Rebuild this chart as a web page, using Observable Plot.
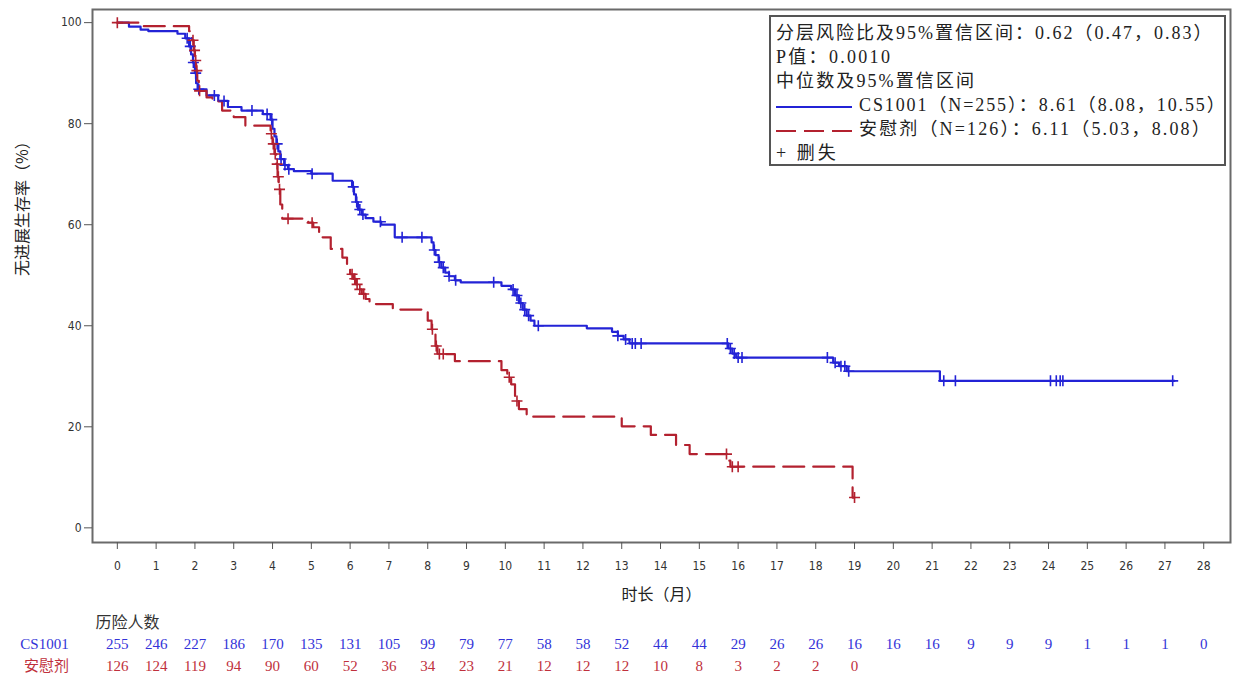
<!DOCTYPE html>
<html><head><meta charset="utf-8">
<script src="https://cdn.jsdelivr.net/npm/d3@7"></script>
<script src="https://cdn.jsdelivr.net/npm/@observablehq/plot@0.6"></script>
<style>
body{margin:0;background:#fff;}
#wrap{position:relative;width:1235px;height:684px;overflow:hidden;}
#legend{position:absolute;left:769px;top:15px;width:457px;height:151px;border:2px solid #555;box-sizing:border-box;
  font-family:"Liberation Serif","Noto Sans CJK SC",serif;font-size:18px;color:#222;background:#fff;padding:4px 0 0 5px;}
#legend .row{height:24px;line-height:24px;white-space:nowrap;}
#legend svg{vertical-align:middle;margin-right:7px;}
#legend .r1{letter-spacing:2.0px;}
#legend .r2{letter-spacing:2.3px;}
#legend .r3{letter-spacing:2.1px;}
#legend .r4{letter-spacing:1.9px;}
#legend .r5{letter-spacing:2.15px;}
#legend .r6{letter-spacing:3px;}
</style>
</head><body>
<div id="wrap">
<div id="chart"></div>
<div id="legend">
  <div class="row r1">分层风险比及95%置信区间：0.62（0.47，0.83）</div>
  <div class="row r2">P值：0.0010</div>
  <div class="row r3">中位数及95%置信区间</div>
  <div class="row r4"><svg width="76" height="10"><line x1="0" y1="5" x2="76" y2="5" stroke="#2323d6" stroke-width="2.2"/></svg>CS1001（N=255）：8.61（8.08，10.55）</div>
  <div class="row r5"><svg width="76" height="10"><line x1="0" y1="5" x2="76" y2="5" stroke="#b3212f" stroke-width="2.2" stroke-dasharray="20,8"/></svg>安慰剂（N=126）：6.11（5.03，8.08）</div>
  <div class="row r6">+ 删失</div>
</div>
</div>
<script>
// ---- Data ----
const monthTicks = [0,1,2,3,4,5,6,7,8,9,10,11,12,13,14,15,16,17,18,19,20,21,22,23,24,25,26,27,28];
const survTicks = [0,20,40,60,80,100];

// CS1001 Kaplan-Meier step points (time in months, survival %)
const csTime = [0,0.3,0.6,0.8,1.55,1.75,1.85,1.9,1.95,2.0,2.03,2.07,2.3,2.6,2.85,3.2,3.75,3.95,4.0,4.05,4.1,4.15,4.2,4.3,4.4,4.55,5.0,5.55,6.05,6.1,6.15,6.2,6.3,6.4,6.6,6.8,7.15,8.1,8.15,8.2,8.28,8.35,8.45,8.55,8.7,8.85,9.9,10.15,10.25,10.35,10.45,10.55,10.65,10.75,12.1,12.75,12.9,13.05,13.2,15.75,15.85,15.95,18.45,18.6,18.8,21.2,27.25];
const csSurv = [100,99.2,98.6,98.3,97.8,96.9,95.3,93.7,92.1,90.0,88.0,86.8,85.6,84.5,83.3,82.6,81.9,80.8,79.0,77.5,76.0,74.5,73.0,71.8,71.0,70.6,70.1,68.7,67.5,66.0,64.5,63.0,62.0,61.3,60.6,60.0,57.5,56.5,55.0,54.0,52.6,51.5,50.5,49.8,49.0,48.6,47.9,47.2,46.0,44.5,43.2,42.0,41.0,40.0,39.5,38.8,38.0,37.3,36.5,35.5,34.5,33.7,32.7,32.0,31.0,29.1,29.1];
const csCensor = [1.8,1.88,1.96,2.02,2.1,2.5,2.75,3.47,3.86,3.98,4.12,4.22,4.32,4.42,5.02,6.08,6.17,6.25,6.33,6.78,7.34,7.85,8.17,8.3,8.4,8.55,8.72,9.7,10.2,10.3,10.4,10.5,10.6,10.85,12.9,13.1,13.27,13.35,13.5,15.72,15.8,15.9,16.0,16.1,18.3,18.5,18.65,18.75,18.85,21.3,21.6,24.05,24.2,24.3,24.37,27.2];

// Placebo step points
const plTime = [0,0.6,1.85,1.92,1.97,2.0,2.03,2.06,2.1,2.3,2.45,2.7,3.0,3.3,3.95,4.0,4.05,4.1,4.13,4.16,4.2,4.25,4.92,5.05,5.2,5.5,5.8,5.92,6.0,6.08,6.15,6.2,6.3,6.4,6.5,7.1,8.0,8.1,8.2,8.25,8.7,9.9,10.05,10.15,10.25,10.35,10.55,13.0,13.75,14.4,14.75,15.72,15.8,18.95,19.0];
const plSurv = [100,99.3,98.3,96.5,94.5,92.5,90.5,88.5,86.5,85.2,84.4,82.6,81.3,79.6,78.0,76.0,74.0,72.0,69.5,67.0,64.0,61.2,60.4,59.5,57.5,55.2,53.5,51.9,50.2,49.3,48.2,47.2,46.3,45.3,44.3,43.2,41.0,39.3,36.0,34.4,33.0,31.2,29.8,28.4,25.1,23.5,22.0,20.1,18.4,16.4,14.6,13.3,12.1,6.0,6.0];
const plCensor = [0,1.95,1.99,2.02,2.05,2.12,3.97,4.02,4.07,4.12,4.15,4.18,4.4,5.02,6.05,6.12,6.18,6.25,6.35,8.12,8.22,8.3,8.4,10.1,10.3,15.7,15.85,16.0,19.0];

// Numbers at risk
const riskMonthsCS = [0,1,2,3,4,5,6,7,8,9,10,11,12,13,14,15,16,17,18,19,20,21,22,23,24,25,26,27,28];
const riskCS = [255,246,227,186,170,135,131,105,99,79,77,58,58,52,44,44,29,26,26,16,16,16,9,9,9,1,1,1,0];
const riskMonthsPL = [0,1,2,3,4,5,6,7,8,9,10,11,12,13,14,15,16,17,18,19];
const riskPL = [126,124,119,94,90,60,52,36,34,23,21,12,12,12,10,8,3,2,2,0];

// ---- Build tables ----
const blue = "#2323d6", red = "#b3212f";
const blueTxt = "#3333d8", redTxt = "#c0303c";
const csCurve = csTime.map((t,i)=>({t, s: csSurv[i]}));
const plCurve = plTime.map((t,i)=>({t, s: plSurv[i]}));
const stepAt = (times, survs, t) => { let v = survs[0]; for (let i=0;i<times.length;i++){ if (times[i] <= t) v = survs[i]; } return v; };
const csCens = csCensor.map(t=>({t, s: stepAt(csTime, csSurv, t)}));
const plCens = plCensor.map(t=>({t, s: stepAt(plTime, plSurv, t)}));
const csRiskRows = riskMonthsCS.map((t,i)=>({t, n: String(riskCS[i])}));
const plRiskRows = riskMonthsPL.map((t,i)=>({t, n: String(riskPL[i])}));

const plusSym = { draw(ctx, size){ const r = Math.sqrt(size/Math.PI); ctx.moveTo(-r,0); ctx.lineTo(r,0); ctx.moveTo(0,-r); ctx.lineTo(0,r); } };

const serif = "'Liberation Serif','Noto Sans CJK SC',serif";
const cjk = "'Noto Sans CJK SC',sans-serif";

const chart = Plot.plot({
  width: 1235, height: 684,
  marginLeft: 92, marginRight: 5, marginTop: 9, marginBottom: 142,
  style: {fontFamily: "'DejaVu Sans Condensed','DejaVu Sans',sans-serif", fontSize: "12px", color: "#333", background: "#fff"},
  x: {domain: [-0.64, 28.69]},
  y: {domain: [-2.9, 102.6]},
  marks: [
    Plot.frame({stroke: "#6a6a6a", strokeWidth: 2}),
    Plot.axisY({ticks: survTicks, tickSize: 8, tickPadding: 3, label: null, stroke: "#555"}),
    Plot.axisX({ticks: monthTicks, tickSize: 7, tickPadding: 12, label: null, stroke: "#555"}),
    Plot.line(csCurve, {x: "t", y: "s", curve: "step-after", stroke: blue, strokeWidth: 2.2}),
    Plot.line(plCurve, {x: "t", y: "s", curve: "step-after", stroke: red, strokeWidth: 2.2, strokeDasharray: "21,9"}),
    Plot.dot(csCens, {x: "t", y: "s", symbol: plusSym, r: 5.5, stroke: blue, fill: "none", strokeWidth: 1.6}),
    Plot.dot(plCens, {x: "t", y: "s", symbol: plusSym, r: 5.5, stroke: red, fill: "none", strokeWidth: 1.6}),
    Plot.text(["时长（月）"], {frameAnchor: "bottom", dy: 57, fontFamily: cjk, fontSize: 16, fill: "#222"}),
    Plot.text(["无进展生存率（%）"], {frameAnchor: "left", dx: -70, rotate: -90, fontFamily: cjk, fontSize: 16, fill: "#222"}),
    Plot.text(["历险人数"], {frameAnchor: "bottom-left", dx: 3, dy: 85, textAnchor: "start", fontFamily: cjk, fontSize: 16, fill: "#333"}),
    Plot.text(["CS1001"], {frameAnchor: "bottom-left", dx: -48, dy: 106, textAnchor: "middle", fontFamily: serif, fontSize: 15, fill: blueTxt}),
    Plot.text(["安慰剂"], {frameAnchor: "bottom-left", dx: -46, dy: 128, textAnchor: "middle", fontFamily: cjk, fontSize: 15, fill: redTxt}),
    Plot.text(csRiskRows, {x: "t", text: "n", frameAnchor: "bottom", dy: 106, fontFamily: serif, fontSize: 15, fill: blueTxt}),
    Plot.text(plRiskRows, {x: "t", text: "n", frameAnchor: "bottom", dy: 128, fontFamily: serif, fontSize: 15, fill: redTxt})
  ]
});
document.getElementById("chart").appendChild(chart);
</script>
</body></html>
